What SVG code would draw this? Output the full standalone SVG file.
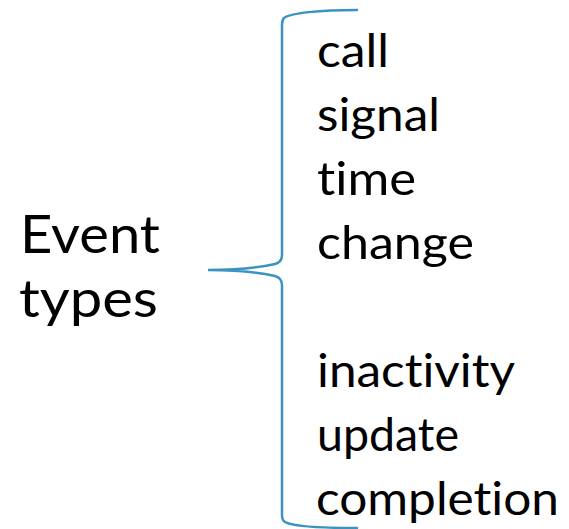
<svg xmlns="http://www.w3.org/2000/svg" width="569" height="529" viewBox="0 0 569 529">
<style>
.t{font-family:Lato,"Open Sans","Liberation Sans",sans-serif;fill:#000;font-variant-ligatures:none;font-feature-settings:"liga" 0,"clig" 0;}
.item{font-size:46px;}
.head{font-size:52px;}
.brace{fill:none;stroke:#3a93c1;stroke-width:2.5;stroke-linecap:round;}
</style>
<g id="connectors">
<path class="brace" d="M357,10 C320,10 290,13 284,18 Q282,20 282,25 L282,255 Q282,262 275,264 C258,268 235,270 208,270 C235,270 258,272 275,276 Q282,278 282,285 L282,515 Q282,520 285,522 C292,526 320,528 357,528"/>
</g>
<g id="event-types">
<text class="t head" x="20" y="253" textLength="140" lengthAdjust="spacingAndGlyphs">Event</text>
<text class="t head" x="19" y="317" textLength="139" lengthAdjust="spacingAndGlyphs">types</text>
</g>
<g id="items">
<text class="t item" x="317" y="67" textLength="72" lengthAdjust="spacingAndGlyphs">call</text>
<text class="t item" x="317" y="131" textLength="123" lengthAdjust="spacingAndGlyphs">signal</text>
<text class="t item" x="317" y="195" textLength="99" lengthAdjust="spacingAndGlyphs">time</text>
<text class="t item" x="317" y="259" textLength="157" lengthAdjust="spacingAndGlyphs">change</text>
<text class="t item" x="317" y="387" textLength="198" lengthAdjust="spacingAndGlyphs">inactivity</text>
<text class="t item" x="317" y="451" textLength="142" lengthAdjust="spacingAndGlyphs">update</text>
<text class="t item" x="316" y="515" textLength="243" lengthAdjust="spacingAndGlyphs">completion</text>
</g>
</svg>
